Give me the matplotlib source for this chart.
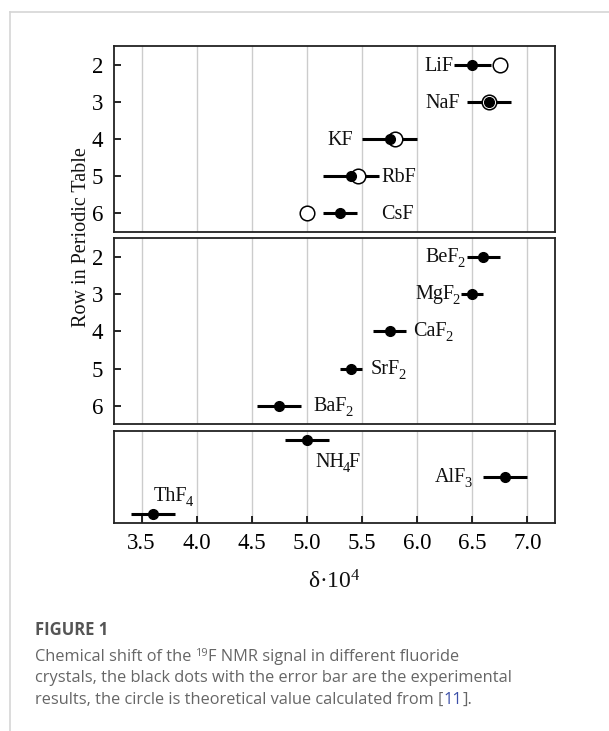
import re
import matplotlib
matplotlib.use("Agg")
import matplotlib.pyplot as plt
from matplotlib.lines import Line2D

# ---------------- data ----------------
alkali_names = ["LiF", "NaF", "KF", "RbF", "CsF"]
alkali_rows = [2, 3, 4, 5, 6]
alkali_exp = [6.50, 6.65, 5.75, 5.40, 5.30]
alkali_err = [0.17, 0.20, 0.25, 0.25, 0.15]
alkali_theory = [6.75, 6.65, 5.80, 5.46, 5.00]

earth_names = ["BeF$_2$", "MgF$_2$", "CaF$_2$", "SrF$_2$", "BaF$_2$"]
earth_rows = [2, 3, 4, 5, 6]
earth_exp = [6.60, 6.50, 5.75, 5.40, 4.75]
earth_err = [0.15, 0.10, 0.15, 0.10, 0.20]

other_names = ["NH$_4$F", "AlF$_3$", "ThF$_4$"]
other_rows = [0.25, 1.25, 2.25]
other_exp = [5.00, 6.80, 3.60]
other_err = [0.20, 0.20, 0.20]

x_ticks = [3.5, 4.0, 4.5, 5.0, 5.5, 6.0, 6.5, 7.0]
row_ticks = [2, 3, 4, 5, 6]

# label offsets in pixels (dx, dy) and horizontal alignment
alkali_lab = [(-20, -6, "right"), (-30, -6, "right"), (-38, -6, "right"),
              (30, -6, "left"), (41, -6, "left")]
earth_lab = [(-20, -5, "right"), (-14, -5, "right"), (24, -5, "left"),
             (20, -5, "left"), (34, -5, "left")]
other_lab = [(8, -27, "left"), (-35, -5, "right"), (1, 13, "left")]

# ---------------- style ----------------
plt.rcParams["font.family"] = ["Liberation Serif", "DejaVu Serif"]
plt.rcParams["mathtext.fontset"] = "custom"
plt.rcParams["mathtext.rm"] = "Liberation Serif"
plt.rcParams["mathtext.it"] = "Liberation Serif:italic"
plt.rcParams["mathtext.bf"] = "Liberation Serif:bold"

W, H = 609, 731
fig = plt.figure(figsize=(W / 100, H / 100), dpi=100)
renderer = fig.canvas.get_renderer()

def px_axes(left, top, right, bottom):
    return fig.add_axes([left / W, 1 - bottom / H, (right - left) / W, (bottom - top) / H])

ax1 = px_axes(114, 46, 555, 231.7)
ax2 = px_axes(114, 238.3, 555, 424.3)
ax3 = px_axes(114, 430.7, 555, 523.3)

FS = 14.5
TFS = 16.5
for ax in (ax1, ax2, ax3):
    ax.set_xlim(3.25, 7.25)
    ax.set_xticks(x_ticks)
    ax.grid(axis="x", color="#cccccc", lw=1.0, zorder=0)
    ax.set_axisbelow(True)
    for s in ax.spines.values():
        s.set_linewidth(1.3)
        s.set_color("#222222")

for ax in (ax1, ax2):
    ax.set_ylim(6.5, 1.5)
    ax.set_yticks(row_ticks)
    ax.tick_params(axis="y", direction="in", length=5, width=1.2, labelsize=TFS, pad=8)
    ax.tick_params(axis="x", length=0, labelbottom=False)

ax3.set_ylim(2.5, 0)
ax3.set_yticks([])
ax3.tick_params(axis="x", direction="in", length=5, width=1.2, labelsize=TFS, pad=7)
ax3.set_xticklabels([f"{v:.1f}" for v in x_ticks])

def label(ax, name, x, y, dx, dy, ha):
    # split chemical formula into normal text and subscript digits
    parts = re.split(r"\$_(\d)\$", name)
    texts = []
    for i, p in enumerate(parts):
        if not p:
            continue
        sub = (i % 2 == 1)
        t = ax.annotate(p, (x, y), xytext=(0, 0), textcoords="offset pixels",
                        ha="left", va="baseline", fontsize=FS * (0.72 if sub else 1.0),
                        color="#111111")
        texts.append((t, sub))
    widths = [t.get_window_extent(renderer).width - 1.5 for t, _ in texts]
    total = sum(widths)
    cx = dx if ha == "left" else dx - total
    for (t, sub), w in zip(texts, widths):
        t.xyann = (cx, dy - (5 if sub else 0))
        cx += w

def draw(ax, names, rows, exp, err, labs, theory=None):
    ax.errorbar(exp, rows, xerr=err, fmt="none", ecolor="black", elinewidth=2.2,
                capsize=0, zorder=2)
    if theory is not None:
        ax.plot(theory, rows, "o", ms=10.5, mfc="white", mec="black", mew=1.1,
                ls="none", zorder=3)
    ax.plot(exp, rows, "o", ms=7, color="black", ls="none", zorder=4)
    for n, x, y, (dx, dy, ha) in zip(names, exp, rows, labs):
        label(ax, n, x, y, dx, dy, ha)

draw(ax1, alkali_names, alkali_rows, alkali_exp, alkali_err, alkali_lab, alkali_theory)
draw(ax2, earth_names, earth_rows, earth_exp, earth_err, earth_lab)
draw(ax3, other_names, other_rows, other_exp, other_err, other_lab)

fig.text(81.5 / W, 1 - 236.7 / H, "Row in Periodic Table", rotation=90,
         ha="center", va="center", fontsize=14.5, color="#111111")
fig.text(334.5 / W, 1 - 581.5 / H, "δ·10$^{4}$", ha="center", va="center",
         fontsize=17, color="#111111")

# ---------------- frame ----------------
fig.add_artist(Line2D([9.5 / W, 1], [1 - 12 / H, 1 - 12 / H], transform=fig.transFigure,
                      color="#d5d5d5", lw=1.2))
fig.add_artist(Line2D([9.5 / W, 9.5 / W], [1 - 12 / H, 0], transform=fig.transFigure,
                      color="#d5d5d5", lw=1.2))

# ---------------- caption ----------------
CAP = ["Open Sans", "DejaVu Sans"]
fig.text(35 / W, 1 - 635 / H, "FIGURE 1", family=CAP, fontsize=12, fontweight="bold",
         color="#555555", va="baseline")

CS = 11.8

def run(pieces, x0, ybase):
    x = x0
    for txt, kw in pieces:
        size = kw.get("size", CS)
        dy = kw.get("dy", 0)
        t = fig.text(x / W, 1 - (ybase - dy) / H, txt, family=CAP, fontsize=size,
                     color=kw.get("color", "#666666"), va="baseline", ha="left")
        bb = t.get_window_extent(renderer)
        x += bb.width

run([("Chemical shift of the ", {}), ("19", {"size": 7.8, "dy": 5}),
     ("F NMR signal in different fluoride", {})], 35, 661)
run([("crystals, the black dots with the error bar are the experimental", {})], 35, 682.5)
run([("results, the circle is theoretical value calculated from [", {}),
     ("11", {"color": "#3b4fa8"}), ("].", {})], 35, 704)

fig.savefig("out.png", dpi=100)
